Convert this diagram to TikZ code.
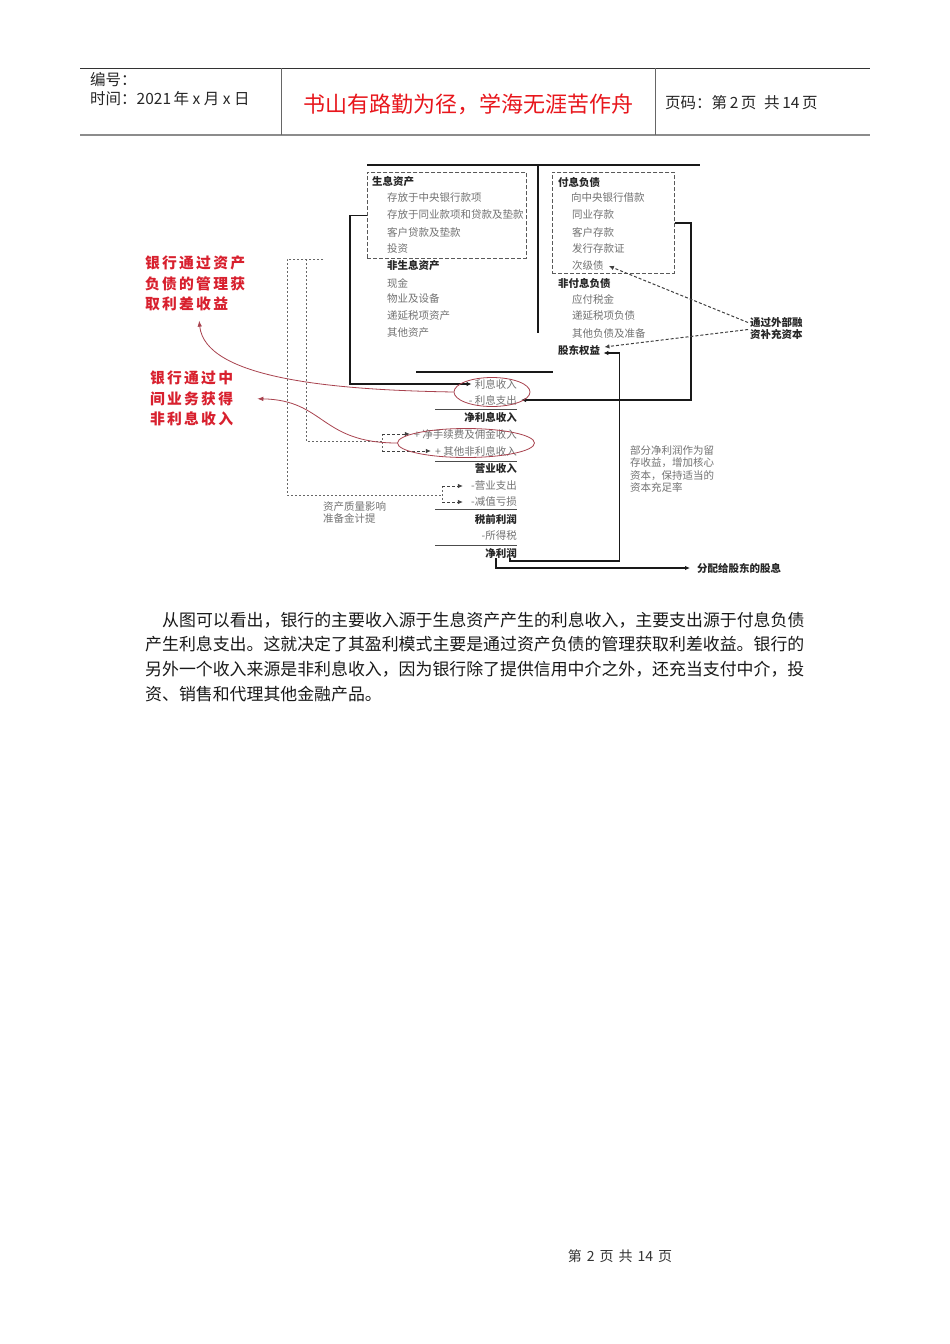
\documentclass[tikz,border=0pt]{standalone}
\usepackage{fontspec}
\setmainfont{Noto Sans CJK SC}
\newfontfamily\annfont[LetterSpace=15]{Noto Sans CJK SC}
\usetikzlibrary{arrows.meta,shapes.geometric,calc}
\definecolor{itemgray}{HTML}{737373}
\definecolor{headdark}{HTML}{262626}
\definecolor{titlered}{HTML}{E8161C}
\definecolor{annred}{HTML}{D8202E}
\definecolor{ellred}{HTML}{A8424E}
\definecolor{rulegray}{HTML}{8C8C8C}
\begin{document}
\begin{tikzpicture}[x=1pt,y=-1pt,
  hdr/.style={font=\fontsize{15.5}{18}\selectfont, text=black!85, inner sep=0, anchor=west},
  item/.style={font=\fontsize{10.5}{12.5}\selectfont, text=itemgray, inner sep=0, anchor=west},
  head/.style={font=\fontsize{10.5}{12.5}\selectfont\bfseries, text=headdark, inner sep=0, anchor=west},
  ritem/.style={item, anchor=east},
  rhead/.style={head, anchor=east},
  note/.style={item, align=left, anchor=north west},
  ann/.style={font=\annfont\bfseries\fontsize{14.8}{20.5}\selectfont, text=annred, align=left, inner sep=0, anchor=north west},
  body/.style={font=\fontsize{16.9}{20}\selectfont, text=black!90, inner sep=0, anchor=west},
  dbox/.style={draw=black!65, dash pattern=on 4pt off 2pt, line width=0.9pt, inner sep=0, anchor=north west},
  thickrule/.style={line width=2.4pt, black!90},
  seprule/.style={line width=1pt, black!70},
  sarr/.style={line width=1.5pt, black!90, -{Latex[length=5pt,width=4.5pt]}},
  darr/.style={line width=1pt, black!75, dash pattern=on 3pt off 2pt, -{Latex[length=5pt,width=4.5pt]}},
  dline/.style={line width=1pt, black!60, dash pattern=on 2pt off 2pt},
  redcurve/.style={ellred, line width=0.8pt, -{Latex[length=6pt,width=4.5pt]}},
  redell/.style={draw=ellred, line width=0.8pt, ellipse, inner sep=0}
]
\fill[white] (0,0) rectangle (950,1344);
\useasboundingbox (0,0) rectangle (950,1344);

% ---------- header ----------
\draw[line width=1pt, black!80] (80,68) -- (870,68);
\draw[line width=2pt, rulegray] (80,135) -- (870,135);
\draw[line width=1pt, black!60] (281,68) -- (281,135) (655,68) -- (655,135);
\node[hdr] (bh) at (90,80) {编号：};
\node[hdr] (sj) at (90,99) {时间：2021\,年\ x\ 月\ x\ 日};
\node[font=\fontsize{22}{26}\selectfont, text=titlered, inner sep=0] (title) at (468,104) {书山有路勤为径，学海无涯苦作舟};
\node[hdr] (ym) at (665,103) {页码：第\,2\,页\enspace 共\,14\,页};

% ---------- balance sheet frame ----------
\draw[thickrule] (367,165) -- (700,165);
\draw[thickrule] (538,165) -- (538,333);
\draw[thickrule] (416,372) -- (553,372);
\node[dbox, minimum width=159pt, minimum height=86pt] (box1) at (367,172) {};
\node[dbox, minimum width=122pt, minimum height=101pt] (box2) at (552,172) {};

% assets
\node[head] (a0) at (372,182) {生息资产};
\node[item] (a1) at (387,198) {存放于中央银行款项};
\node[item] (a2) at (387,215) {存放于同业款项和贷款及垫款};
\node[item] (a3) at (387,232) {客户贷款及垫款};
\node[item] (a4) at (387,249) {投资};
\node[head] (a5) at (387,266) {非生息资产};
\node[item] (a6) at (387,283) {现金};
\node[item] (a7) at (387,299) {物业及设备};
\node[item] (a8) at (387,316) {递延税项资产};
\node[item] (a9) at (387,333) {其他资产};

% liabilities
\node[head] (l0) at (558,182) {付息负债};
\node[item] (l1) at (571,198) {向中央银行借款};
\node[item] (l2) at (572,215) {同业存款};
\node[item] (l3) at (572,232) {客户存款};
\node[item] (l4) at (572,249) {发行存款证};
\node[item] (cjz) at (572,266) {次级债};
\node[head] (l5) at (558,283) {非付息负债};
\node[item] (l6) at (572,299) {应付税金};
\node[item] (l7) at (572,316) {递延税项负债};
\node[item] (l8) at (572,333) {其他负债及准备};
\node[head] (gd) at (558,350) {股东权益};

% ---------- income statement ----------
\node[ritem] (r1) at (517,384) {利息收入};
\node[ritem] (r2) at (517,400) {- 利息支出};
\node[rhead] (r3) at (517,417) {净利息收入};
\node[ritem] (r4) at (517,434) {+ 净手续费及佣金收入};
\node[ritem] (r5) at (517,451) {+ 其他非利息收入};
\node[rhead] (r6) at (517,469) {营业收入};
\node[ritem] (r7) at (517,486) {-营业支出};
\node[ritem] (r8) at (517,502) {-减值亏损};
\node[rhead] (r9) at (517,519) {税前利润};
\node[ritem] (r10) at (517,536) {-所得税};
\node[rhead] (np) at (517,553) {净利润};
\draw[seprule] (435,409) -- (517,409);
\draw[seprule] (435,461) -- (517,461);
\draw[seprule] (435,509) -- (517,509);
\draw[seprule] (435,545) -- (517,545);

% ---------- notes ----------
\node[head, align=left, anchor=north west] (ext) at (750,317) {通过外部融\\资补充资本};
\node[head] (dv) at (697,568) {分配给股东的股息};
\node[note] (zl) at (323,501) {资产质量影响\\准备金计提};
\node[note] (lc) at (630,445) {部分净利润作为留\\存收益，增加核心\\资本，保持适当的\\资本充足率};

% ---------- solid connectors ----------
\draw[sarr] (box1.west) -- ++(-17,0) |- ([xshift=-3pt]r1.west);
\draw[sarr] (box2.east) -- ++(16,0) |- ([xshift=4pt]r2.east);
\draw[sarr] ([xshift=-7pt]np.south east) -- ++(0,3) -| ([xshift=19pt,yshift=-3pt]gd.east) -- ([xshift=3pt,yshift=-3pt]gd.east);
\draw[sarr] ([xshift=-21pt]np.south east) |- ([xshift=-7pt]dv.west);

% ---------- dashed connectors (external capital) ----------
\draw[darr] ([xshift=-2pt,yshift=6pt]ext.west) -- ([xshift=5pt]cjz.east);
\draw[darr] ([xshift=-2pt,yshift=-1pt]ext.west) -- ([xshift=4pt,yshift=3pt]gd.east);

% ---------- dotted brackets ----------
\coordinate (jA) at (442,495);
\coordinate (jB) at (382,441);
\draw[dline] (323,259) -- (287,259) -- (287,495) -- (jA);
\draw[dline] (306,259) -- (306,441) -- (jB);
\draw[dline] (r7.west -| jA) -- (r8.west -| jA);
\draw[dline] (r4.west -| jB) -- (r5.west -| jB);
\draw[darr] (r7.west -| jA) -- ([xshift=-8pt]r7.west);
\draw[darr] (r8.west -| jA) -- ([xshift=-8pt]r8.west);
\draw[darr] (r4.west -| jB) -- ([xshift=-4pt]r4.west);
\draw[darr] (r5.west -| jB) -- ([xshift=-4pt]r5.west);

% ---------- red annotations ----------
\node[ann] (ann1) at (145,256) {银行通过资产\\负债的管理获\\取利差收益};
\node[ann] (ann2) at (150,371) {银行通过中\\间业务获得\\非利息收入};
\node[redell, minimum width=76pt, minimum height=29pt] (e1) at (492,392) {};
\node[redell, minimum width=137pt, minimum height=29pt] (e2) at (466,443) {};
\draw[redcurve] (e1.west) .. controls (330,390) and (205,378) .. ([xshift=4pt,yshift=-9pt]ann1.south);
\draw[redcurve] (e2.west) .. controls (320,443) and (325,400) .. ([xshift=24pt]ann2.east);

% ---------- body text ----------
\node[body] (p1) at (162,620) {从图可以看出，银行的主要收入源于生息资产产生的利息收入，主要支出源于付息负债};
\node[body] (p2) at (145,644) {产生利息支出。这就决定了其盈利模式主要是通过资产负债的管理获取利差收益。银行的};
\node[body] (p3) at (145,669) {另外一个收入来源是非利息收入，因为银行除了提供信用中介之外，还充当支付中介，投};
\node[body] (p4) at (145,694) {资、销售和代理其他金融产品。};

% ---------- footer ----------
\node[font=\fontsize{14}{16}\selectfont, text=black!80, inner sep=0] (ft) at (620,1256) {第\hspace{5pt}2\hspace{5pt}页\hspace{5pt}共\hspace{5pt}14\hspace{5pt}页};
\end{tikzpicture}
\end{document}
